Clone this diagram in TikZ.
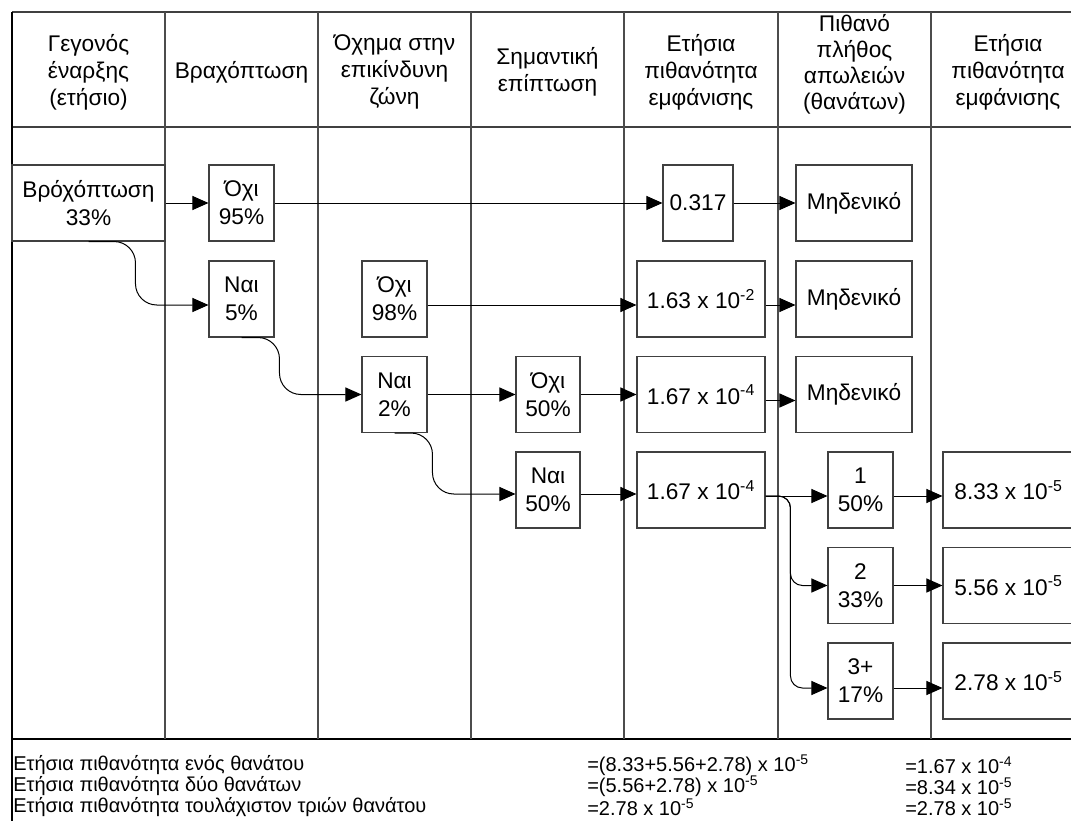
\documentclass[tikz,border=0pt]{standalone}
\usepackage{fontspec}
\setmainfont{Liberation Sans}
\usetikzlibrary{arrows.meta,calc}
\begin{document}
\begin{tikzpicture}[x=0.75pt,y=-0.75pt,
  box/.style={draw=black!75, line width=0.8pt, fill=white, align=center, inner sep=0pt, font=\fontsize{17}{21}\selectfont},
  sz/.style 2 args={minimum width=#1*0.75pt, minimum height=#2*0.75pt},
  hdr/.style={align=center, inner sep=0pt, font=\fontsize{17}{20.25}\selectfont},
  hdrt/.style={align=center, inner sep=0pt, font=\fontsize{17}{19.5}\selectfont},
  arr/.style={draw=black, line width=0.75pt, -{Triangle[length=12pt,width=10.5pt]}},
  rc/.style={rounded corners=16pt},
  rcs/.style={rounded corners=9pt},
  frame/.style={draw=black, line width=1.1pt},
  hline/.style={draw=black!75, line width=0.9pt},
  div/.style={draw=black!70, line width=0.8pt},
  summ/.style={anchor=west, inner sep=0pt, font=\fontsize{15}{17}\selectfont}
]
\useasboundingbox (0,0) rectangle (1071,821);
\clip (0,0) rectangle (1071,821);

% frame and grid
\draw[hline] (12,12) -- (1090,12);
\draw[hline] (12,127) -- (1090,127);
\draw[frame] (12,739) -- (1090,739);
\draw[frame] (12,12) -- (12,830);
\foreach \x in {165,318,471,624,778,931} \draw[div] (\x,12) -- (\x,739);

% header
\node[hdr] (h1) at (88.5,72) {Γεγονός\\έναρξης\\(ετήσιο)};
\node[hdr] (h2) at (241.5,72) {Βραχόπτωση};
\node[hdr] (h3) at (394.5,72) {Όχημα στην\\επικίνδυνη\\ζώνη};
\node[hdr] (h4) at (547.5,72) {Σημαντική\\επίπτωση};
\node[hdr] (h5) at (701,72) {Ετήσια\\πιθανότητα\\εμφάνισης};
\node[hdrt] (h6) at (854.5,64) {Πιθανό\\πλήθος\\απωλειών\\(θανάτων)};
\node[hdr] (h7) at (1008,72) {Ετήσια\\πιθανότητα\\εμφάνισης};

% boxes
\node[box, sz={153}{76}] (init) at (88.5,203) {Βρόχόπτωση\\33\%};
\node[box, sz={65}{76}] (n1) at (241.5,203) {Όχι\\95\%};
\node[box, sz={65}{76}] (y1) at (241.5,299) {Ναι\\5\%};
\node[box, sz={65}{76}] (n2) at (394.5,299) {Όχι\\98\%};
\node[box, sz={65}{76}] (y2) at (394.5,394.5) {Ναι\\2\%};
\node[box, sz={64}{76}] (n3) at (548,394.5) {Όχι\\50\%};
\node[box, sz={64}{76}] (y3) at (548,490) {Ναι\\50\%};
\node[box, sz={70}{76}] (p1) at (698,203) {0.317};
\node[box, sz={128}{76}] (p2) at (701,299) {1.63 x 10\textsuperscript{-2}};
\node[box, sz={128}{76}] (p3) at (701,394.5) {1.67 x 10\textsuperscript{-4}};
\node[box, sz={128}{76}] (p4) at (701,490) {1.67 x 10\textsuperscript{-4}};
\node[box, sz={116}{76}] (z1) at (854,203) {Μηδενικό};
\node[box, sz={116}{76}] (z2) at (854,299) {Μηδενικό};
\node[box, sz={116}{76}] (z3) at (854,394.5) {Μηδενικό};
\node[box, sz={65}{76}] (d1) at (860.5,490) {1\\50\%};
\node[box, sz={65}{76}] (d2) at (860.5,585.5) {2\\33\%};
\node[box, sz={65}{76}] (d3) at (860.5,681) {3+\\17\%};
\node[box, sz={131}{76}] (f1) at (1008.5,490) {8.33 x 10\textsuperscript{-5}};
\node[box, sz={131}{76}] (f2) at (1008.5,585.5) {5.56 x 10\textsuperscript{-5}};
\node[box, sz={131}{76}] (f3) at (1008.5,681) {2.78 x 10\textsuperscript{-5}};

% connectors
\draw[arr] (init.east) -- (n1.west);
\draw[arr] (n1.east) -- (p1.west);
\draw[arr] (p1.east) -- (z1.west);
\draw[arr,rc] (init.south) -| ($(y1.west)+(-73,6)$) -- ($(y1.west)+(0,6)$);
\draw[arr] ($(n2.east)+(0,6)$) -- ($(p2.west)+(0,6)$);
\draw[arr] ($(p2.east)+(0,6)$) -- ($(z2.west)+(0,6)$);
\draw[arr,rc] (y1.south) -| ($(y2.west)+(-82,0)$) -- (y2.west);
\draw[arr] (y2.east) -- (n3.west);
\draw[arr] (n3.east) -- (p3.west);
\draw[arr] ($(p3.east)+(0,6)$) -- ($(z3.west)+(0,6)$);
\draw[arr,rc] (y2.south) -| ($(y3.west)+(-83,4)$) -- ($(y3.west)+(0,4)$);
\draw[arr] ($(y3.east)+(0,4)$) -- ($(p4.west)+(0,4)$);
\draw[arr] ($(p4.east)+(0,6)$) -- ($(d1.west)+(0,6)$);
\draw[arr,rcs] ($(p4.east)+(0,6)$) -| ($(d2.west)+(-37,0)$) -- (d2.west);
\draw[arr,rcs] ($(p4.east)+(0,6)$) -| ($(d3.west)+(-37,7)$) -- ($(d3.west)+(0,7)$);
\draw[arr] ($(d1.east)+(0,6)$) -- ($(f1.west)+(0,6)$);
\draw[arr] (d2.east) -- (f2.west);
\draw[arr] ($(d3.east)+(0,7)$) -- ($(f3.west)+(0,7)$);

% summary
\node[summ] (s1a) at (13,765) {Ετήσια πιθανότητα ενός θανάτου};
\node[summ] (s2a) at (13,786) {Ετήσια πιθανότητα δύο θανάτων};
\node[summ] (s3a) at (13,807) {Ετήσια πιθανότητα τουλάχιστον τριών θανάτου};
\node[summ] (s1b) at (587,765) {=(8.33+5.56+2.78) x 10\textsuperscript{-5}};
\node[summ] (s2b) at (587,786) {=(5.56+2.78) x 10\textsuperscript{-5}};
\node[summ] (s3b) at (587,807) {=2.78 x 10\textsuperscript{-5}};
\node[summ] (s1c) at (905,765) {=1.67 x 10\textsuperscript{-4}};
\node[summ] (s2c) at (905,786) {=8.34 x 10\textsuperscript{-5}};
\node[summ] (s3c) at (905,807) {=2.78 x 10\textsuperscript{-5}};
\end{tikzpicture}
\end{document}
